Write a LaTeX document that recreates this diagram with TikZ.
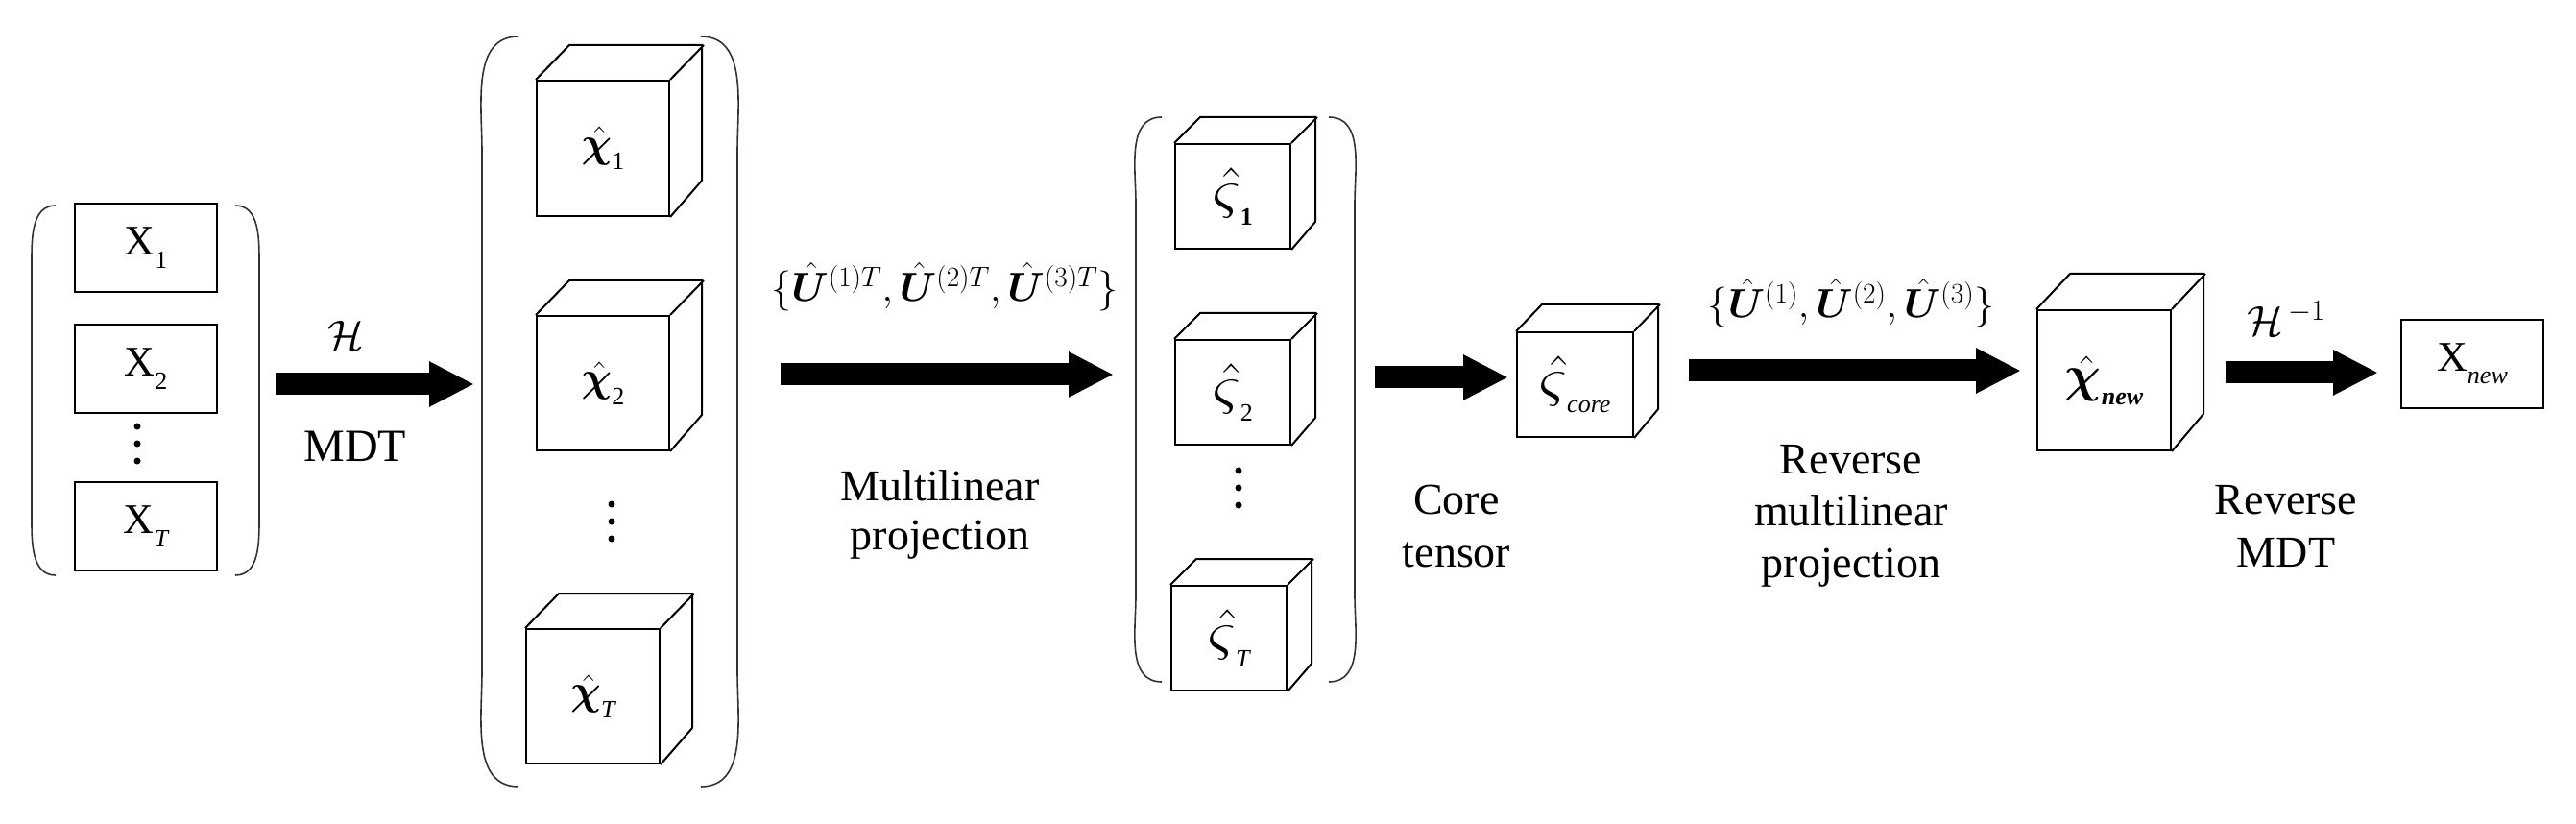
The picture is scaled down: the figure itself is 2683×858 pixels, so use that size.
\documentclass[tikz,border=0pt]{standalone}
\usepackage{fix-cm}
\usepackage{amsmath,bm}
\usepackage{fontspec}
\setmainfont{Liberation Serif}
\newfontfamily\tnr{Liberation Serif}
\usetikzlibrary{arrows.meta}
\newcommand\mysub[1]{\raisebox{-0.3em}{\fontsize{26}{26}\selectfont #1}}
\newcommand\myvs{\scalebox{1.5}{$\hat{\varsigma}$}}
\newcommand\mycube[8]{%
  \node[draw, line width=2pt, minimum width=#4pt, minimum height=#5pt, anchor=north west, inner sep=0pt] (#1) at (#2,#3) {};
  \draw[line width=2pt, line join=miter] (#1.north west) -- ++(#6pt,#7pt) -- ++(#4pt,0pt) -- ++(0pt,-#5pt) -- (#1.south east)
        (#1.north east) -- ++(#6pt,#7pt);
  \node[lbl] (#1-t) at (#1.center) {#8};}
\newcommand\mydots[3]{%
  \node[circle, fill, inner sep=0pt, minimum size=7pt] (#1a) at (#2,#3-18) {};
  \node[circle, fill, inner sep=0pt, minimum size=7pt] (#1b) at (#2,#3) {};
  \node[circle, fill, inner sep=0pt, minimum size=7pt] (#1c) at (#2,#3+18) {};}
\begin{document}
\begin{tikzpicture}[x=1pt,y=-1pt,
  lbl/.style={font=\tnr\fontsize{44}{50}\selectfont, align=center, inner sep=0pt},
  box/.style={draw, line width=2pt, minimum width=148pt, minimum height=92pt, inner sep=0pt, font=\tnr\fontsize{44}{50}\selectfont},
  paren/.style={line width=1.6pt, draw=black!80},
  big/.style={line width=23pt, -{Triangle[length=47pt 0, width=44pt 0]}}]
\useasboundingbox (0,0) rectangle (2683,858);
\node[box] (x1) at (152,258) {X\mysub{1}};
\node[box] (x2) at (152,384) {X\mysub{2}};
\node[box] (xT) at (152,548) {X\mysub{\itshape T}};
\mydots{d1}{143}{462}
\draw[paren] (58,214) to[out=180,in=90] (33,274) -- (33,539) to[out=-90,in=180] (58,599);
\draw[paren] (245,214) to[out=0,in=90] (270,274) -- (270,539) to[out=-90,in=0] (245,599);
\mycube{c1}{558}{83}{138}{141}{35}{36}{$\hat{\bm\chi}$\mysub{1}}
\mycube{c2}{558}{328}{138}{140}{35}{36}{$\hat{\bm\chi}$\mysub{2}}
\mycube{cT}{547}{654}{139}{140}{35}{36}{$\hat{\bm\chi}$\mysub{\itshape T}}
\mydots{d2}{637}{543}
\draw[paren] (540,38) to[out=180,in=90] (502,158) -- (502,699) to[out=-90,in=180] (540,819);
\draw[paren] (730,38) to[out=0,in=90] (768,158) -- (768,699) to[out=-90,in=0] (730,819);
\mycube{s1}{1223}{149}{120}{109}{27}{27}{\myvs\mysub{\bfseries 1}}
\mycube{s2}{1223}{353}{120}{109}{27}{27}{\myvs\mysub{2}}
\mycube{sT}{1219}{609}{120}{109}{27}{27}{\myvs\mysub{\itshape T}}
\mydots{d3}{1290}{508}
\draw[paren] (1210,122) to[out=180,in=90] (1183,212) -- (1183,620) to[out=-90,in=180] (1210,710);
\draw[paren] (1384,122) to[out=0,in=90] (1411,212) -- (1411,620) to[out=-90,in=0] (1384,710);
\mycube{core}{1579}{345}{121}{109}{27}{28}{\myvs\mysub{\itshape core}}
\mycube{new}{2121}{322}{139}{146}{35}{37}{\scalebox{1.2}{$\hat{\bm\chi}$}\mysub{\bfseries\itshape new}}
\node[box] (xn) at (2575,379) {X\mysub{\itshape new}};
\coordinate (a1s) at (287,400); \coordinate (a1e) at (494,400);
\coordinate (a2s) at (813,390); \coordinate (a2e) at (1160,390);
\coordinate (a3s) at (1432,393); \coordinate (a3e) at (1571,393);
\coordinate (a4s) at (1759,386); \coordinate (a4e) at (2105,386);
\coordinate (a5s) at (2318,388); \coordinate (a5e) at (2477,388);
\foreach \i in {1,...,5} {\draw[big] (a\i s) -- (a\i e);}
\node[lbl] (lH) at (360,349) {$\mathcal{H}$};
\node[lbl, font=\tnr\fontsize{48}{54}\selectfont] (lMDT) at (370,465) {MDT};
\node[lbl, font=\tnr\fontsize{42}{46}\selectfont] (lUT) at (984,299) {$\{\hat{\bm U}^{(1)T},\hat{\bm U}^{(2)T},\hat{\bm U}^{(3)T}\}$};
\node[lbl, font=\tnr\fontsize{46}{51}\selectfont] (lMP) at (979,536) {Multilinear\\projection};
\node[lbl, font=\tnr\fontsize{46}{55}\selectfont] (lCT) at (1517,548) {Core\\tensor};
\node[lbl, font=\tnr\fontsize{42}{46}\selectfont] (lU) at (1928,316) {$\{\hat{\bm U}^{(1)},\hat{\bm U}^{(2)},\hat{\bm U}^{(3)}\}$};
\node[lbl, font=\tnr\fontsize{46}{54}\selectfont] (lRMP) at (1928,537) {Reverse\\multilinear\\projection};
\node[lbl] (lHi) at (2381,332) {$\mathcal{H}^{\,-1}$};
\node[lbl, font=\tnr\fontsize{46}{55}\selectfont] (lRM) at (2381,548) {Reverse\\MDT};
\end{tikzpicture}
\end{document}
